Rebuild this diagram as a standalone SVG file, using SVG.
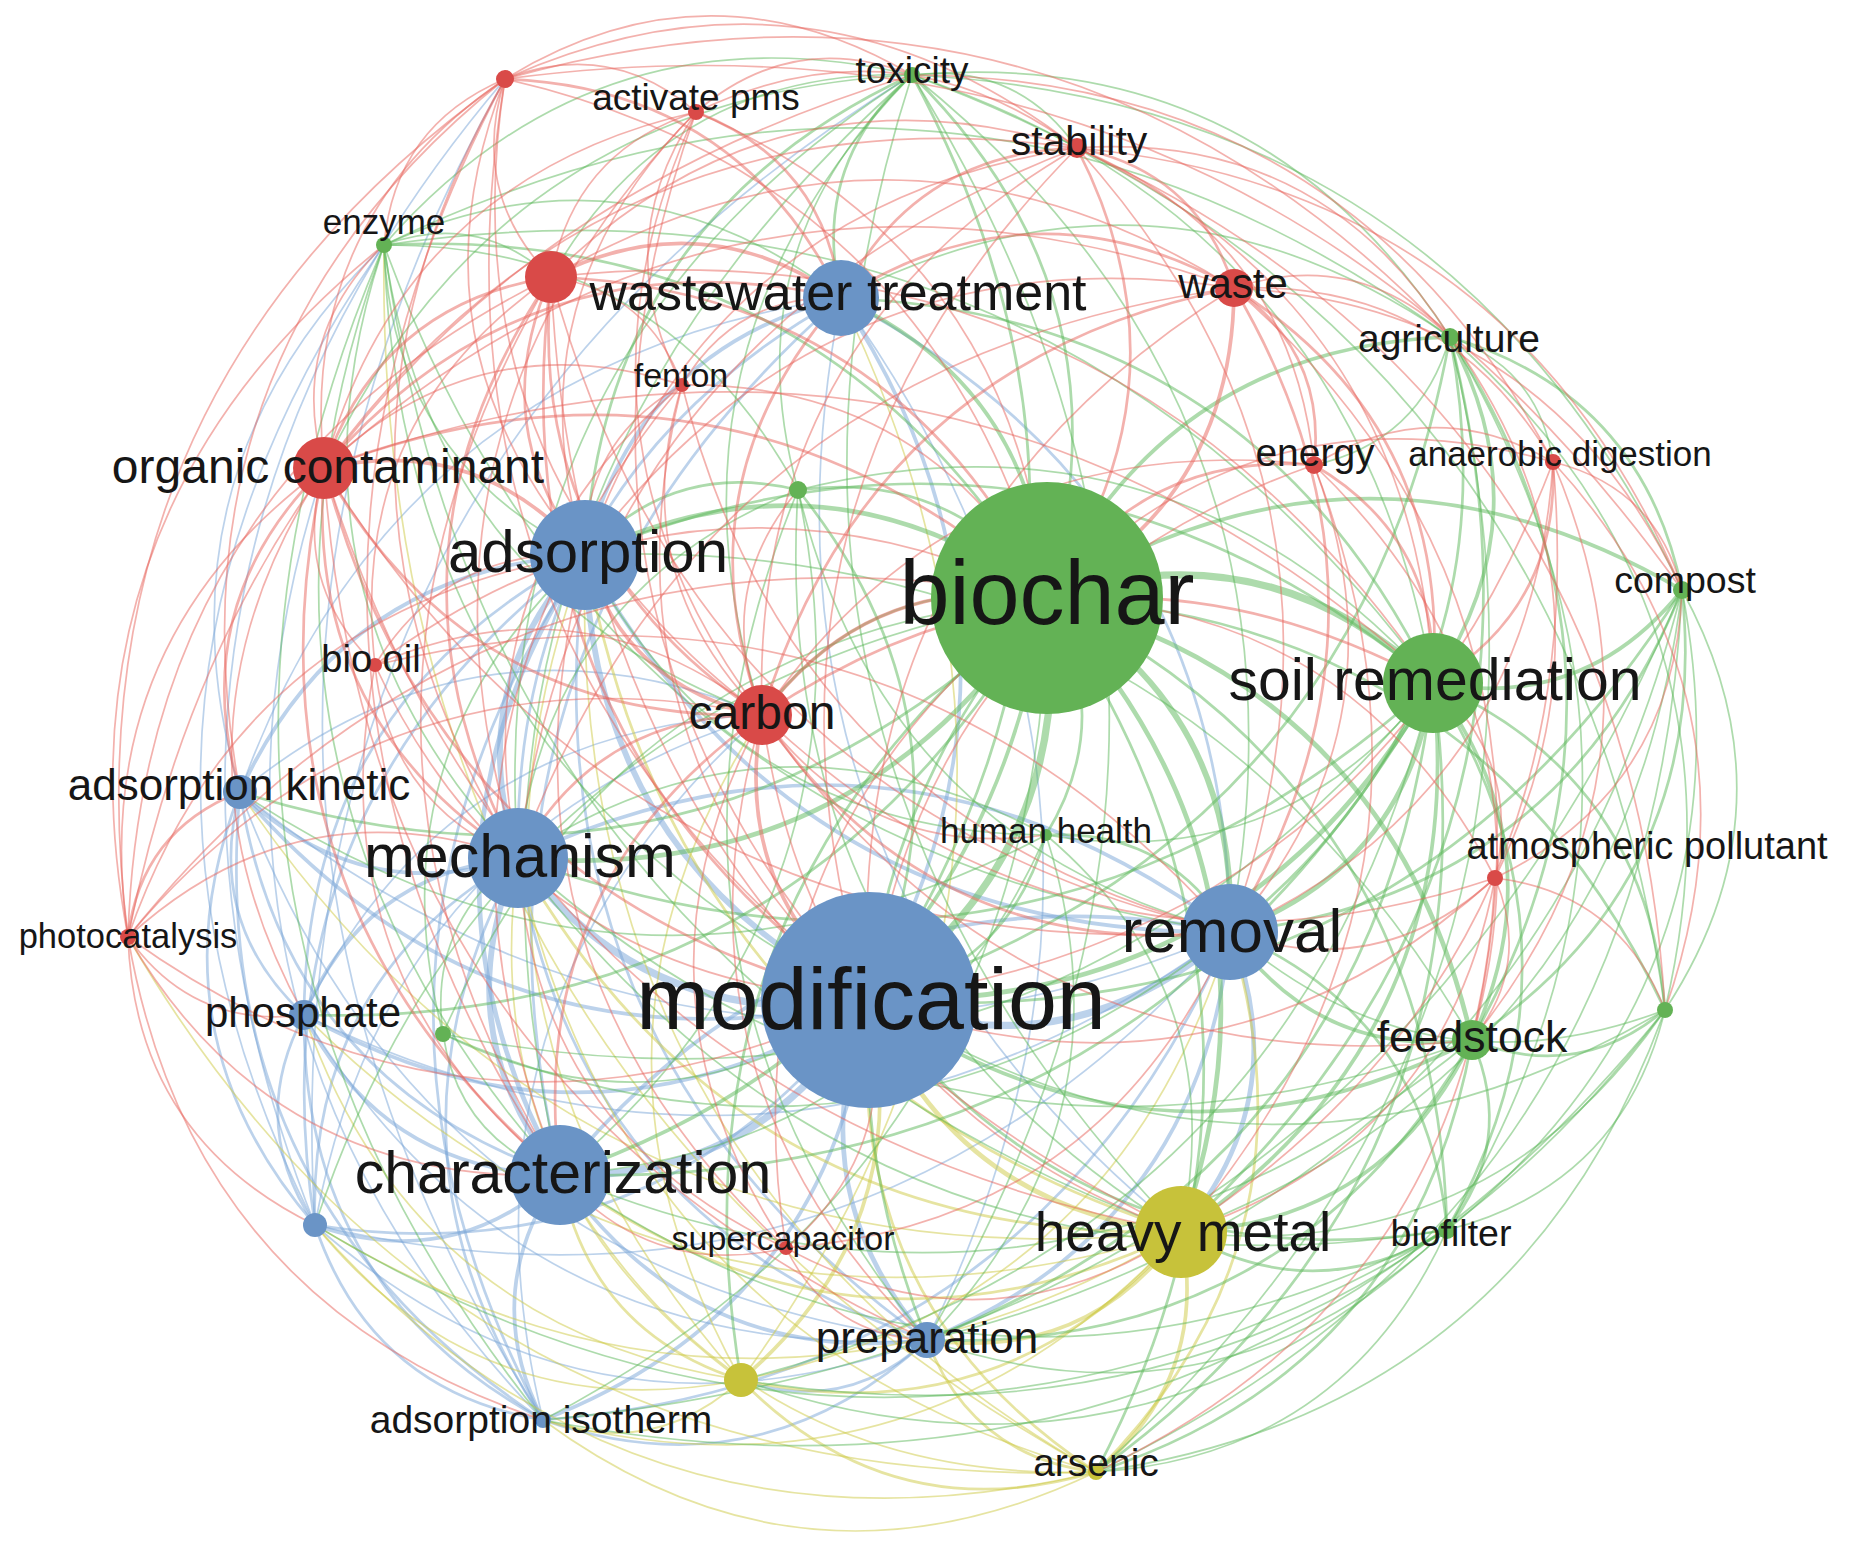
<svg xmlns="http://www.w3.org/2000/svg" xmlns:xlink="http://www.w3.org/1999/xlink" width="1866" height="1551" viewBox="0 0 1866 1551">
<style>
.r{stroke:#e8645c}.g{stroke:#5cb85a}.b{stroke:#7aa6d8}.y{stroke:#cdc944}
#edges use{fill:none;stroke-opacity:0.5}
.s1{stroke-width:1.7}.s2{stroke-width:2.7}.s3{stroke-width:3.7}.s4{stroke-width:4.7}.s5{stroke-width:5.8}.s6{stroke-width:7.2}
.nr{fill:#d94a48}.ng{fill:#63b255}.nb{fill:#6a94c6}.ny{fill:#c7c23a}
text{font-family:"Liberation Sans",Arial,sans-serif;fill:#161616;text-anchor:middle}
</style>
<defs>
<path id="e" d="M0 0Q0.5 -0.3 1 0" fill="none" vector-effect="non-scaling-stroke"/>
</defs>
<rect width="1866" height="1551" fill="#ffffff"/>
<g id="edges">
<!-- blue -->
<use href="#e" class="b s6" transform="matrix(-361 68 -68 -361 1230 932)"/>
<use href="#e" class="b s6" transform="matrix(-309 175 -175 -309 869 1000)"/>
<use href="#e" class="b s6" transform="matrix(-351 -142 142 -351 869 1000)"/>
<use href="#e" class="b s5" transform="matrix(-284 -445 445 -284 869 1000)"/>
<use href="#e" class="b s3" transform="matrix(28 702 -702 28 841 298)"/>
<use href="#e" class="b s4" transform="matrix(-58 -340 340 -58 927 1340)"/>
<use href="#e" class="b s3" transform="matrix(-629 -208 208 -629 869 1000)"/>
<use href="#e" class="b s3" transform="matrix(-565 15 -15 -565 869 1000)"/>
<use href="#e" class="b s3" transform="matrix(-326 420 -420 -326 869 1000)"/>
<use href="#e" class="b s2" transform="matrix(-554 225 -225 -554 869 1000)"/>
<use href="#e" class="b s5" transform="matrix(67 -303 303 67 518 858)"/>
<use href="#e" class="b s4" transform="matrix(25 -620 620 25 560 1175)"/>
<use href="#e" class="b s3" transform="matrix(256 -257 257 256 585 555)"/>
<use href="#e" class="b s3" transform="matrix(-645 -377 377 -645 1230 932)"/>
<use href="#e" class="b s3" transform="matrix(345 -237 237 345 240 792)"/>
<use href="#e" class="b s2" transform="matrix(281 -460 460 281 304 1015)"/>
<use href="#e" class="b s2" transform="matrix(42 -865 865 42 543 1420)"/>
<use href="#e" class="b s2" transform="matrix(270 -670 670 270 315 1225)"/>
<use href="#e" class="b s2" transform="matrix(-342 -785 785 -342 927 1340)"/>
<use href="#e" class="b s5" transform="matrix(-42 -317 317 -42 560 1175)"/>
<use href="#e" class="b s3" transform="matrix(712 74 -74 712 518 858)"/>
<use href="#e" class="b s3" transform="matrix(-278 -66 66 -278 518 858)"/>
<use href="#e" class="b s3" transform="matrix(214 -157 157 214 304 1015)"/>
<use href="#e" class="b s2" transform="matrix(-25 -562 562 -25 543 1420)"/>
<use href="#e" class="b s2" transform="matrix(203 -367 367 203 315 1225)"/>
<use href="#e" class="b s2" transform="matrix(-409 -482 482 -409 927 1340)"/>
<use href="#e" class="b s2" transform="matrix(323 -560 560 323 518 858)"/>
<use href="#e" class="b s3" transform="matrix(670 -243 243 670 560 1175)"/>
<use href="#e" class="b s2" transform="matrix(-320 -383 383 -320 560 1175)"/>
<use href="#e" class="b s3" transform="matrix(-256 -160 160 -256 560 1175)"/>
<use href="#e" class="b s3" transform="matrix(17 -245 245 17 543 1420)"/>
<use href="#e" class="b s3" transform="matrix(-245 50 -50 -245 560 1175)"/>
<use href="#e" class="b s3" transform="matrix(-367 -165 165 -367 927 1340)"/>
<use href="#e" class="b s2" transform="matrix(281 -877 877 281 560 1175)"/>
<use href="#e" class="b s2" transform="matrix(389 634 -634 389 841 298)"/>
<use href="#e" class="b s1" transform="matrix(-340 -934 934 -340 1181 1232)"/>
<use href="#e" class="b s1" transform="matrix(86 1042 -1042 86 841 298)"/>
<use href="#e" class="b s1" transform="matrix(601 -494 494 601 240 792)"/>
<use href="#e" class="b s4" transform="matrix(-49 300 -300 -49 1230 932)"/>
<use href="#e" class="b s3" transform="matrix(-303 408 -408 -303 1230 932)"/>
<use href="#e" class="b s2" transform="matrix(-687 488 -488 -687 1230 932)"/>
<use href="#e" class="b s1" transform="matrix(-990 -140 140 -990 1230 932)"/>
<use href="#e" class="b s1" transform="matrix(-926 83 -83 -926 1230 932)"/>
<use href="#e" class="b s1" transform="matrix(-915 293 -293 -915 1230 932)"/>
<use href="#e" class="b s2" transform="matrix(-64 -223 223 -64 304 1015)"/>
<use href="#e" class="b s2" transform="matrix(-75 -433 433 -75 315 1225)"/>
<use href="#e" class="b s2" transform="matrix(-303 -628 628 -303 543 1420)"/>
<use href="#e" class="b s1" transform="matrix(-687 -548 548 -687 927 1340)"/>
<use href="#e" class="b s2" transform="matrix(-11 -210 210 -11 315 1225)"/>
<use href="#e" class="b s2" transform="matrix(-239 -405 405 -239 543 1420)"/>
<use href="#e" class="b s1" transform="matrix(-623 -325 325 -623 927 1340)"/>
<use href="#e" class="b s2" transform="matrix(-228 -195 195 -228 543 1420)"/>
<use href="#e" class="b s1" transform="matrix(-612 -115 115 -612 927 1340)"/>
<use href="#e" class="b s2" transform="matrix(-384 80 -80 -384 927 1340)"/>
<use href="#e" class="b s2" transform="matrix(-186 40 -40 -186 927 1340)"/>
<use href="#e" class="b s1" transform="matrix(-38 -1341 1341 -38 543 1420)"/>
<use href="#e" class="b s1" transform="matrix(190 -1146 1146 190 315 1225)"/>
<use href="#e" class="b s1" transform="matrix(597 -1150 1150 597 315 1225)"/>
<use href="#e" class="b s1" transform="matrix(144 -547 547 144 240 792)"/>
<use href="#e" class="b s1" transform="matrix(69 -980 980 69 315 1225)"/>
<use href="#e" class="b s1" transform="matrix(-219 -952 952 -219 543 1420)"/>
<use href="#e" class="b s1" transform="matrix(522 -77 77 522 240 792)"/>
<use href="#e" class="b s1" transform="matrix(458 -300 300 458 304 1015)"/>
<use href="#e" class="b s1" transform="matrix(447 -510 510 447 315 1225)"/>
<use href="#e" class="b s1" transform="matrix(219 -705 705 219 543 1420)"/>
<!-- yellow -->
<use href="#e" class="y s4" transform="matrix(-312 -232 232 -312 1181 1232)"/>
<use href="#e" class="y s3" transform="matrix(-128 380 -380 -128 869 1000)"/>
<use href="#e" class="y s2" transform="matrix(-227 -472 472 -227 1096 1472)"/>
<use href="#e" class="y s2" transform="matrix(-596 -677 677 -596 1181 1232)"/>
<use href="#e" class="y s2" transform="matrix(-663 -374 374 -663 1181 1232)"/>
<use href="#e" class="y s1" transform="matrix(-223 -522 522 -223 741 1380)"/>
<use href="#e" class="y s2" transform="matrix(-621 -57 57 -621 1181 1232)"/>
<use href="#e" class="y s2" transform="matrix(-181 -205 205 -181 741 1380)"/>
<use href="#e" class="y s1" transform="matrix(-638 188 -188 -638 1181 1232)"/>
<use href="#e" class="y s1" transform="matrix(-198 40 -40 -198 741 1380)"/>
<use href="#e" class="y s3" transform="matrix(-254 108 -108 -254 1181 1232)"/>
<use href="#e" class="y s3" transform="matrix(-85 240 -240 -85 1181 1232)"/>
<use href="#e" class="y s2" transform="matrix(-440 148 -148 -440 1181 1232)"/>
<use href="#e" class="y s1" transform="matrix(-941 -440 440 -941 1181 1232)"/>
<use href="#e" class="y s1" transform="matrix(-877 -217 217 -877 1181 1232)"/>
<use href="#e" class="y s1" transform="matrix(-866 -7 7 -866 1181 1232)"/>
<use href="#e" class="y s2" transform="matrix(-355 -92 92 -355 1096 1472)"/>
<use href="#e" class="y s1" transform="matrix(-489 448 -448 -489 1230 932)"/>
<use href="#e" class="y s1" transform="matrix(-156 -825 825 -156 741 1380)"/>
<use href="#e" class="y s1" transform="matrix(-426 -155 155 -426 741 1380)"/>
<use href="#e" class="y s1" transform="matrix(-437 -365 365 -437 741 1380)"/>
<use href="#e" class="y s2" transform="matrix(-169 -132 132 -169 1096 1472)"/>
<use href="#e" class="y s1" transform="matrix(-536 -297 297 -536 1096 1472)"/>
<use href="#e" class="y s2" transform="matrix(-134 540 -540 -134 1230 932)"/>
<use href="#e" class="y s1" transform="matrix(-553 -52 52 -553 1096 1472)"/>
<use href="#e" class="y s1" transform="matrix(-578 -614 614 -578 1096 1472)"/>
<use href="#e" class="y s1" transform="matrix(-781 -247 247 -781 1096 1472)"/>
<use href="#e" class="y s1" transform="matrix(-511 -917 917 -511 1096 1472)"/>
<use href="#e" class="y s1" transform="matrix(-968 -535 535 -968 1096 1472)"/>
<use href="#e" class="y s1" transform="matrix(-712 -1227 1227 -712 1096 1472)"/>
<use href="#e" class="y s1" transform="matrix(21 -665 665 21 741 1380)"/>
<use href="#e" class="y s1" transform="matrix(-100 1082 -1082 -100 841 298)"/>
<!-- green -->
<use href="#e" class="g s6" transform="matrix(-178 402 -402 -178 1047 598)"/>
<use href="#e" class="g s6" transform="matrix(386 85 -85 386 1047 598)"/>
<use href="#e" class="g s5" transform="matrix(183 334 -334 183 1047 598)"/>
<use href="#e" class="g s4" transform="matrix(134 634 -634 134 1047 598)"/>
<use href="#e" class="g s3" transform="matrix(-487 577 -577 -487 1047 598)"/>
<use href="#e" class="g s4" transform="matrix(-529 260 -260 -529 1047 598)"/>
<use href="#e" class="g s4" transform="matrix(462 43 -43 462 585 555)"/>
<use href="#e" class="g s3" transform="matrix(206 300 -300 206 841 298)"/>
<use href="#e" class="g s4" transform="matrix(425 442 -442 425 1047 598)"/>
<use href="#e" class="g s3" transform="matrix(403 -261 261 403 1047 598)"/>
<use href="#e" class="g s3" transform="matrix(635 -8 8 635 1047 598)"/>
<use href="#e" class="g s2" transform="matrix(400 632 -632 400 1047 598)"/>
<use href="#e" class="g s2" transform="matrix(49 874 -874 49 1047 598)"/>
<use href="#e" class="g s2" transform="matrix(120 -742 742 120 927 1340)"/>
<use href="#e" class="g s2" transform="matrix(135 523 -523 135 912 75)"/>
<use href="#e" class="g s2" transform="matrix(663 353 -353 663 384 245)"/>
<use href="#e" class="g s2" transform="matrix(249 108 -108 249 798 490)"/>
<use href="#e" class="g s2" transform="matrix(-1 237 -237 -1 1047 598)"/>
<use href="#e" class="g s2" transform="matrix(618 412 -412 618 1047 598)"/>
<use href="#e" class="g s2" transform="matrix(306 -782 782 306 741 1380)"/>
<use href="#e" class="g s2" transform="matrix(-743 417 -417 -743 1047 598)"/>
<use href="#e" class="g s2" transform="matrix(-807 194 -194 -807 1047 598)"/>
<use href="#e" class="g s1" transform="matrix(604 -436 436 604 443 1034)"/>
<use href="#e" class="g s1" transform="matrix(732 -627 627 732 315 1225)"/>
<use href="#e" class="g s1" transform="matrix(-504 822 -822 -504 1047 598)"/>
<use href="#e" class="g s2" transform="matrix(285 -117 117 285 762 715)"/>
<use href="#e" class="g s4" transform="matrix(-564 317 -317 -564 1433 683)"/>
<use href="#e" class="g s4" transform="matrix(-203 249 -249 -203 1433 683)"/>
<use href="#e" class="g s3" transform="matrix(-252 549 -549 -252 1433 683)"/>
<use href="#e" class="g s3" transform="matrix(39 357 -357 39 1433 683)"/>
<use href="#e" class="g s3" transform="matrix(-17 346 -346 -17 1450 337)"/>
<use href="#e" class="g s3" transform="matrix(-249 93 -93 -249 1682 590)"/>
<use href="#e" class="g s2" transform="matrix(14 547 -547 14 1433 683)"/>
<use href="#e" class="g s2" transform="matrix(-337 789 -789 -337 1433 683)"/>
<use href="#e" class="g s2" transform="matrix(232 327 -327 232 1433 683)"/>
<use href="#e" class="g s2" transform="matrix(-873 492 -492 -873 1433 683)"/>
<use href="#e" class="g s2" transform="matrix(-915 175 -175 -915 1433 683)"/>
<use href="#e" class="g s2" transform="matrix(848 128 -128 848 585 555)"/>
<use href="#e" class="g s2" transform="matrix(-506 657 -657 -506 1433 683)"/>
<use href="#e" class="g s1" transform="matrix(-692 697 -697 -692 1433 683)"/>
<use href="#e" class="g s2" transform="matrix(592 385 -385 592 841 298)"/>
<use href="#e" class="g s1" transform="matrix(-990 351 -351 -990 1433 683)"/>
<use href="#e" class="g s1" transform="matrix(521 608 -608 521 912 75)"/>
<use href="#e" class="g s1" transform="matrix(-387 152 -152 -387 1433 683)"/>
<use href="#e" class="g s3" transform="matrix(-603 -40 40 -603 1472 1040)"/>
<use href="#e" class="g s3" transform="matrix(-242 -108 108 -242 1472 1040)"/>
<use href="#e" class="g s3" transform="matrix(-291 192 -192 -291 1472 1040)"/>
<use href="#e" class="g s2" transform="matrix(-25 190 -190 -25 1472 1040)"/>
<use href="#e" class="g s2" transform="matrix(-210 450 -450 -210 1682 590)"/>
<use href="#e" class="g s2" transform="matrix(-193 30 -30 -193 1665 1010)"/>
<use href="#e" class="g s2" transform="matrix(22 703 -703 22 1450 337)"/>
<use href="#e" class="g s2" transform="matrix(-376 432 -432 -376 1472 1040)"/>
<use href="#e" class="g s1" transform="matrix(-912 135 -135 -912 1472 1040)"/>
<use href="#e" class="g s2" transform="matrix(-545 300 -300 -545 1472 1040)"/>
<use href="#e" class="g s1" transform="matrix(-954 -182 182 -954 1472 1040)"/>
<use href="#e" class="g s1" transform="matrix(887 485 -485 887 585 555)"/>
<use href="#e" class="g s2" transform="matrix(-581 663 -663 -581 1450 337)"/>
<use href="#e" class="g s2" transform="matrix(-220 595 -595 -220 1450 337)"/>
<use href="#e" class="g s2" transform="matrix(232 253 -253 232 1450 337)"/>
<use href="#e" class="g s2" transform="matrix(-269 895 -895 -269 1450 337)"/>
<use href="#e" class="g s1" transform="matrix(538 262 -262 538 912 75)"/>
<use href="#e" class="g s1" transform="matrix(215 673 -673 215 1450 337)"/>
<use href="#e" class="g s1" transform="matrix(-3 893 -893 -3 1450 337)"/>
<use href="#e" class="g s1" transform="matrix(609 39 -39 609 841 298)"/>
<use href="#e" class="g s1" transform="matrix(-354 1135 -1135 -354 1450 337)"/>
<use href="#e" class="g s1" transform="matrix(-136 128 -128 -136 1450 337)"/>
<use href="#e" class="g s1" transform="matrix(103 125 -125 103 1450 337)"/>
<use href="#e" class="g s2" transform="matrix(-813 410 -410 -813 1682 590)"/>
<use href="#e" class="g s2" transform="matrix(-452 342 -342 -452 1682 590)"/>
<use href="#e" class="g s1" transform="matrix(-235 640 -640 -235 1682 590)"/>
<use href="#e" class="g s1" transform="matrix(-17 420 -420 -17 1682 590)"/>
<use href="#e" class="g s1" transform="matrix(-501 642 -642 -501 1682 590)"/>
<use href="#e" class="g s1" transform="matrix(-586 882 -882 -586 1682 590)"/>
<use href="#e" class="g s1" transform="matrix(770 515 -515 770 912 75)"/>
<use href="#e" class="g s1" transform="matrix(-755 750 -750 -755 1682 590)"/>
<use href="#e" class="g s1" transform="matrix(-1139 830 -830 -1139 1682 590)"/>
<use href="#e" class="g s2" transform="matrix(-43 925 -925 -43 912 75)"/>
<use href="#e" class="g s2" transform="matrix(327 -480 480 327 585 555)"/>
<use href="#e" class="g s2" transform="matrix(71 -223 223 71 841 298)"/>
<use href="#e" class="g s1" transform="matrix(361 -202 202 361 551 277)"/>
<use href="#e" class="g s1" transform="matrix(588 -393 393 588 324 468)"/>
<use href="#e" class="g s1" transform="matrix(318 857 -857 318 912 75)"/>
<use href="#e" class="g s1" transform="matrix(528 -170 170 528 384 245)"/>
<use href="#e" class="g s1" transform="matrix(-269 -1157 1157 -269 1181 1232)"/>
<use href="#e" class="g s1" transform="matrix(394 -783 783 394 518 858)"/>
<use href="#e" class="g s1" transform="matrix(150 -640 640 150 762 715)"/>
<use href="#e" class="g s1" transform="matrix(753 935 -935 753 912 75)"/>
<use href="#e" class="g s1" transform="matrix(165 73 -73 165 912 75)"/>
<use href="#e" class="g s1" transform="matrix(352 -1100 1100 352 560 1175)"/>
<use href="#e" class="g s1" transform="matrix(15 1265 -1265 15 912 75)"/>
<use href="#e" class="g s1" transform="matrix(457 53 -53 457 384 245)"/>
<use href="#e" class="g s1" transform="matrix(-201 -310 310 -201 585 555)"/>
<use href="#e" class="g s1" transform="matrix(-134 -613 613 -134 518 858)"/>
<use href="#e" class="g s1" transform="matrix(-485 -755 755 -485 869 1000)"/>
<use href="#e" class="g s1" transform="matrix(-378 -470 470 -378 762 715)"/>
<use href="#e" class="g s1" transform="matrix(414 245 -245 414 384 245)"/>
<use href="#e" class="g s1" transform="matrix(-846 -687 687 -846 1230 932)"/>
<use href="#e" class="g s1" transform="matrix(1049 438 -438 1049 384 245)"/>
<use href="#e" class="g s1" transform="matrix(-176 -930 930 -176 560 1175)"/>
<use href="#e" class="g s1" transform="matrix(-159 -1175 1175 -159 543 1420)"/>
<use href="#e" class="g s1" transform="matrix(1066 92 -92 1066 384 245)"/>
<use href="#e" class="g s1" transform="matrix(167 32 -32 167 384 245)"/>
<use href="#e" class="g s1" transform="matrix(-797 -987 987 -797 1181 1232)"/>
<use href="#e" class="g s2" transform="matrix(71 510 -510 71 798 490)"/>
<use href="#e" class="g s2" transform="matrix(213 -65 65 213 585 555)"/>
<use href="#e" class="g s1" transform="matrix(280 -368 368 280 518 858)"/>
<use href="#e" class="g s1" transform="matrix(114 -415 415 114 798 490)"/>
<use href="#e" class="g s1" transform="matrix(635 193 -193 635 798 490)"/>
<use href="#e" class="g s1" transform="matrix(-432 -442 442 -432 1230 932)"/>
<use href="#e" class="g s1" transform="matrix(-238 685 -685 -238 798 490)"/>
<use href="#e" class="g s1" transform="matrix(-383 -742 742 -383 1181 1232)"/>
<use href="#e" class="g s1" transform="matrix(-129 -850 850 -129 927 1340)"/>
<use href="#e" class="g s1" transform="matrix(-426 34 -34 -426 869 1000)"/>
<use href="#e" class="g s1" transform="matrix(75 -176 176 75 443 1034)"/>
<use href="#e" class="g s1" transform="matrix(-117 -141 141 -117 560 1175)"/>
<use href="#e" class="g s1" transform="matrix(-787 102 -102 -787 1230 932)"/>
<use href="#e" class="g s1" transform="matrix(142 -479 479 142 443 1034)"/>
<use href="#e" class="g s1" transform="matrix(-435 -78 78 -435 1665 1010)"/>
<use href="#e" class="g s1" transform="matrix(-796 -10 10 -796 1665 1010)"/>
<use href="#e" class="g s1" transform="matrix(-484 222 -222 -484 1665 1010)"/>
<use href="#e" class="g s1" transform="matrix(-218 220 -220 -218 1665 1010)"/>
<use href="#e" class="g s1" transform="matrix(-569 462 -462 -569 1665 1010)"/>
<use href="#e" class="g s1" transform="matrix(-1122 410 -410 -1122 1665 1010)"/>
<use href="#e" class="g s1" transform="matrix(-924 370 -370 -924 1665 1010)"/>
<use href="#e" class="g s2" transform="matrix(-578 -230 230 -578 1447 1230)"/>
<use href="#e" class="g s2" transform="matrix(-266 2 -2 -266 1447 1230)"/>
<use href="#e" class="g s2" transform="matrix(217 298 -298 217 1230 932)"/>
<use href="#e" class="g s1" transform="matrix(-351 242 -242 -351 1447 1230)"/>
<use href="#e" class="g s1" transform="matrix(-520 110 -110 -520 1447 1230)"/>
<use href="#e" class="g s1" transform="matrix(-887 -55 55 -887 1447 1230)"/>
<use href="#e" class="g s1" transform="matrix(-706 150 -150 -706 1447 1230)"/>
<use href="#e" class="g s1" transform="matrix(-1132 -5 5 -1132 1447 1230)"/>
<use href="#e" class="g s1" transform="matrix(-929 -372 372 -929 1447 1230)"/>
<use href="#e" class="g s2" transform="matrix(-177 165 -165 -177 1046 835)"/>
<use href="#e" class="g s2" transform="matrix(184 97 -97 184 1046 835)"/>
<use href="#e" class="g s1" transform="matrix(135 397 -397 135 1046 835)"/>
<use href="#e" class="g s1" transform="matrix(528 -23 23 528 518 858)"/>
<use href="#e" class="g s1" transform="matrix(-461 -280 280 -461 1046 835)"/>
<use href="#e" class="g s1" transform="matrix(-486 340 -340 -486 1046 835)"/>
<use href="#e" class="g s1" transform="matrix(-119 505 -505 -119 1046 835)"/>
<use href="#e" class="g s1" transform="matrix(-806 -43 43 -806 1046 835)"/>
<!-- red -->
<use href="#e" class="r s1" transform="matrix(181 -389 389 181 324 468)"/>
<use href="#e" class="r s1" transform="matrix(-46 -198 198 -46 551 277)"/>
<use href="#e" class="r s2" transform="matrix(336 219 -219 336 505 79)"/>
<use href="#e" class="r s1" transform="matrix(-80 -476 476 -80 585 555)"/>
<use href="#e" class="r s1" transform="matrix(-257 -636 636 -257 762 715)"/>
<use href="#e" class="r s1" transform="matrix(542 519 -519 542 505 79)"/>
<use href="#e" class="r s1" transform="matrix(377 -858 858 377 128 937)"/>
<use href="#e" class="r s1" transform="matrix(265 -713 713 265 240 792)"/>
<use href="#e" class="r s1" transform="matrix(-13 -779 779 -13 518 858)"/>
<use href="#e" class="r s1" transform="matrix(572 69 -69 572 505 79)"/>
<use href="#e" class="r s1" transform="matrix(407 -4 4 407 505 79)"/>
<use href="#e" class="r s1" transform="matrix(191 33 -33 191 505 79)"/>
<use href="#e" class="r s1" transform="matrix(-364 -921 921 -364 869 1000)"/>
<use href="#e" class="r s1" transform="matrix(-55 -1096 1096 -55 560 1175)"/>
<use href="#e" class="r s1" transform="matrix(121 -166 166 121 384 245)"/>
<use href="#e" class="r s1" transform="matrix(145 -165 165 145 551 277)"/>
<use href="#e" class="r s1" transform="matrix(372 -356 356 372 324 468)"/>
<use href="#e" class="r s2" transform="matrix(145 186 -186 145 696 112)"/>
<use href="#e" class="r s1" transform="matrix(111 -443 443 111 585 555)"/>
<use href="#e" class="r s1" transform="matrix(-66 -603 603 -66 762 715)"/>
<use href="#e" class="r s1" transform="matrix(351 486 -486 351 696 112)"/>
<use href="#e" class="r s1" transform="matrix(178 -746 746 178 518 858)"/>
<use href="#e" class="r s1" transform="matrix(-173 -888 888 -173 869 1000)"/>
<use href="#e" class="r s1" transform="matrix(381 36 -36 381 696 112)"/>
<use href="#e" class="r s1" transform="matrix(14 -273 273 14 682 385)"/>
<use href="#e" class="r s1" transform="matrix(216 -37 37 216 696 112)"/>
<use href="#e" class="r s2" transform="matrix(236 -150 150 236 841 298)"/>
<use href="#e" class="r s1" transform="matrix(526 -129 129 526 551 277)"/>
<use href="#e" class="r s2" transform="matrix(-30 450 -450 -30 1077 148)"/>
<use href="#e" class="r s2" transform="matrix(157 140 -140 157 1077 148)"/>
<use href="#e" class="r s1" transform="matrix(492 -407 407 492 585 555)"/>
<use href="#e" class="r s1" transform="matrix(315 -567 567 315 762 715)"/>
<use href="#e" class="r s1" transform="matrix(208 -852 852 208 869 1000)"/>
<use href="#e" class="r s1" transform="matrix(753 -320 320 753 324 468)"/>
<use href="#e" class="r s1" transform="matrix(356 535 -535 356 1077 148)"/>
<use href="#e" class="r s1" transform="matrix(153 784 -784 153 1077 148)"/>
<use href="#e" class="r s1" transform="matrix(237 317 -317 237 1077 148)"/>
<use href="#e" class="r s1" transform="matrix(559 -710 710 559 518 858)"/>
<use href="#e" class="r s3" transform="matrix(-187 310 -310 -187 1234 288)"/>
<use href="#e" class="r s2" transform="matrix(199 395 -395 199 1234 288)"/>
<use href="#e" class="r s2" transform="matrix(393 -10 10 393 841 298)"/>
<use href="#e" class="r s2" transform="matrix(80 177 -177 80 1234 288)"/>
<use href="#e" class="r s1" transform="matrix(319 174 -174 319 1234 288)"/>
<use href="#e" class="r s2" transform="matrix(-4 644 -644 -4 1234 288)"/>
<use href="#e" class="r s1" transform="matrix(365 -712 712 365 869 1000)"/>
<use href="#e" class="r s2" transform="matrix(472 -427 427 472 762 715)"/>
<use href="#e" class="r s1" transform="matrix(216 49 -49 216 1234 288)"/>
<use href="#e" class="r s1" transform="matrix(238 752 -752 238 1234 288)"/>
<use href="#e" class="r s1" transform="matrix(683 11 -11 683 551 277)"/>
<use href="#e" class="r s1" transform="matrix(910 -180 180 910 324 468)"/>
<use href="#e" class="r s1" transform="matrix(649 -267 267 649 585 555)"/>
<use href="#e" class="r s1" transform="matrix(716 -570 570 716 518 858)"/>
<use href="#e" class="r s1" transform="matrix(448 302 -302 448 1234 288)"/>
<use href="#e" class="r s2" transform="matrix(227 -191 191 227 324 468)"/>
<use href="#e" class="r s3" transform="matrix(290 21 -21 290 551 277)"/>
<use href="#e" class="r s2" transform="matrix(-34 -278 278 -34 585 555)"/>
<use href="#e" class="r s2" transform="matrix(-211 -438 438 -211 762 715)"/>
<use href="#e" class="r s2" transform="matrix(496 321 -321 496 551 277)"/>
<use href="#e" class="r s2" transform="matrix(-318 -723 723 -318 869 1000)"/>
<use href="#e" class="r s2" transform="matrix(33 -581 581 33 518 858)"/>
<use href="#e" class="r s1" transform="matrix(131 108 -108 131 551 277)"/>
<use href="#e" class="r s1" transform="matrix(-9 -898 898 -9 560 1175)"/>
<use href="#e" class="r s1" transform="matrix(-679 -655 655 -679 1230 932)"/>
<use href="#e" class="r s1" transform="matrix(176 -388 388 176 375 665)"/>
<use href="#e" class="r s1" transform="matrix(882 406 -406 882 551 277)"/>
<use href="#e" class="r s1" transform="matrix(-630 -955 955 -630 1181 1232)"/>
<use href="#e" class="r s3" transform="matrix(261 87 -87 261 324 468)"/>
<use href="#e" class="r s2" transform="matrix(-438 -247 247 -438 762 715)"/>
<use href="#e" class="r s2" transform="matrix(-194 -390 390 -194 518 858)"/>
<use href="#e" class="r s2" transform="matrix(-545 -532 532 -545 869 1000)"/>
<use href="#e" class="r s2" transform="matrix(723 130 -130 723 324 468)"/>
<use href="#e" class="r s2" transform="matrix(-236 -707 707 -236 560 1175)"/>
<use href="#e" class="r s1" transform="matrix(-51 -197 197 -51 375 665)"/>
<use href="#e" class="r s2" transform="matrix(84 -324 324 84 240 792)"/>
<use href="#e" class="r s1" transform="matrix(196 -469 469 196 128 937)"/>
<use href="#e" class="r s2" transform="matrix(517 -170 170 517 324 468)"/>
<use href="#e" class="r s1" transform="matrix(358 -83 83 358 324 468)"/>
<use href="#e" class="r s1" transform="matrix(20 -547 547 20 304 1015)"/>
<use href="#e" class="r s1" transform="matrix(-906 -464 464 -906 1230 932)"/>
<use href="#e" class="r s1" transform="matrix(1109 215 -215 1109 324 468)"/>
<use href="#e" class="r s1" transform="matrix(60 -223 223 60 324 468)"/>
<use href="#e" class="r s1" transform="matrix(-857 -764 764 -857 1181 1232)"/>
<use href="#e" class="r s1" transform="matrix(-603 -872 872 -603 927 1340)"/>
<use href="#e" class="r s3" transform="matrix(-177 -160 160 -177 762 715)"/>
<use href="#e" class="r s2" transform="matrix(244 -143 143 244 518 858)"/>
<use href="#e" class="r s3" transform="matrix(-107 -285 285 -107 869 1000)"/>
<use href="#e" class="r s3" transform="matrix(285 -117 117 285 762 715)"/>
<use href="#e" class="r s2" transform="matrix(202 -460 460 202 560 1175)"/>
<use href="#e" class="r s2" transform="matrix(-468 -217 217 -468 1230 932)"/>
<use href="#e" class="r s2" transform="matrix(671 -32 32 671 762 715)"/>
<use href="#e" class="r s1" transform="matrix(-419 -517 517 -419 1181 1232)"/>
<use href="#e" class="r s2" transform="matrix(79 -417 417 79 762 715)"/>
<use href="#e" class="r s1" transform="matrix(-24 -533 533 -24 786 1248)"/>
<use href="#e" class="r s1" transform="matrix(-165 -625 625 -165 927 1340)"/>
<use href="#e" class="r s1" transform="matrix(-710 -325 325 -710 1472 1040)"/>
<use href="#e" class="r s1" transform="matrix(36 -225 225 36 762 715)"/>
<use href="#e" class="r s1" transform="matrix(-284 -120 120 -284 1046 835)"/>
<use href="#e" class="r s1" transform="matrix(97 -170 170 97 585 555)"/>
<use href="#e" class="r s1" transform="matrix(-80 -330 330 -80 762 715)"/>
<use href="#e" class="r s1" transform="matrix(-187 -615 615 -187 869 1000)"/>
<use href="#e" class="r s1" transform="matrix(365 213 -213 365 682 385)"/>
<use href="#e" class="r s1" transform="matrix(159 -87 87 159 682 385)"/>
<use href="#e" class="r s1" transform="matrix(164 -473 473 164 518 858)"/>
<use href="#e" class="r s1" transform="matrix(-548 -547 547 -548 1230 932)"/>
<use href="#e" class="r s1" transform="matrix(122 -790 790 122 560 1175)"/>
<use href="#e" class="r s1" transform="matrix(672 -67 67 672 375 665)"/>
<use href="#e" class="r s1" transform="matrix(-494 -335 335 -494 869 1000)"/>
<use href="#e" class="r s1" transform="matrix(387 50 -50 387 375 665)"/>
<use href="#e" class="r s1" transform="matrix(-143 -193 193 -143 518 858)"/>
<use href="#e" class="r s1" transform="matrix(210 -110 110 210 375 665)"/>
<use href="#e" class="r s1" transform="matrix(-185 -510 510 -185 560 1175)"/>
<use href="#e" class="r s1" transform="matrix(855 267 -267 855 375 665)"/>
<use href="#e" class="r s2" transform="matrix(112 -145 145 112 128 937)"/>
<use href="#e" class="r s1" transform="matrix(390 -79 79 390 128 937)"/>
<use href="#e" class="r s1" transform="matrix(-741 -63 63 -741 869 1000)"/>
<use href="#e" class="r s1" transform="matrix(-432 -238 238 -432 560 1175)"/>
<use href="#e" class="r s1" transform="matrix(457 -382 382 457 128 937)"/>
<use href="#e" class="r s1" transform="matrix(634 -222 222 634 128 937)"/>
<use href="#e" class="r s1" transform="matrix(-176 -78 78 -176 304 1015)"/>
<use href="#e" class="r s1" transform="matrix(919 -339 339 919 128 937)"/>
<use href="#e" class="r s1" transform="matrix(423 -660 660 423 128 937)"/>
<use href="#e" class="r s1" transform="matrix(-187 -288 288 -187 315 1225)"/>
<use href="#e" class="r s1" transform="matrix(-415 -483 483 -415 543 1420)"/>
<use href="#e" class="r s1" transform="matrix(784 -862 862 784 128 937)"/>
<use href="#e" class="r s1" transform="matrix(256 -692 692 256 128 937)"/>
<use href="#e" class="r s2" transform="matrix(267 -133 133 267 1047 598)"/>
<use href="#e" class="r s2" transform="matrix(119 218 -218 119 1314 465)"/>
<use href="#e" class="r s1" transform="matrix(445 -535 535 445 869 1000)"/>
<use href="#e" class="r s1" transform="matrix(-84 467 -467 -84 1314 465)"/>
<use href="#e" class="r s1" transform="matrix(158 575 -575 158 1314 465)"/>
<use href="#e" class="r s1" transform="matrix(552 -250 250 552 762 715)"/>
<use href="#e" class="r s1" transform="matrix(-133 767 -767 -133 1314 465)"/>
<use href="#e" class="r s1" transform="matrix(506 -136 136 506 1047 598)"/>
<use href="#e" class="r s2" transform="matrix(-120 221 -221 -120 1553 462)"/>
<use href="#e" class="r s1" transform="matrix(-81 578 -578 -81 1553 462)"/>
<use href="#e" class="r s1" transform="matrix(239 -3 3 239 1314 465)"/>
<use href="#e" class="r s1" transform="matrix(129 128 -128 129 1553 462)"/>
<use href="#e" class="r s1" transform="matrix(-684 538 -538 -684 1553 462)"/>
<use href="#e" class="r s1" transform="matrix(-323 470 -470 -323 1553 462)"/>
<use href="#e" class="r s1" transform="matrix(112 548 -548 112 1553 462)"/>
<use href="#e" class="r s1" transform="matrix(-372 770 -770 -372 1553 462)"/>
<use href="#e" class="r s1" transform="matrix(641 387 -387 641 912 75)"/>
<use href="#e" class="r s1" transform="matrix(448 280 -280 448 1047 598)"/>
<use href="#e" class="r s1" transform="matrix(62 195 -195 62 1433 683)"/>
<use href="#e" class="r s1" transform="matrix(-265 54 -54 -265 1495 878)"/>
<use href="#e" class="r s1" transform="matrix(-626 122 -122 -626 1495 878)"/>
<use href="#e" class="r s1" transform="matrix(-23 162 -162 -23 1495 878)"/>
<use href="#e" class="r s1" transform="matrix(-733 -163 163 -733 1495 878)"/>
<use href="#e" class="r s1" transform="matrix(-314 354 -354 -314 1495 878)"/>
<use href="#e" class="r s1" transform="matrix(-187 288 -288 -187 1682 590)"/>
<use href="#e" class="r s1" transform="matrix(45 541 -541 45 1450 337)"/>
<use href="#e" class="r s1" transform="matrix(170 132 -132 170 1495 878)"/>
<use href="#e" class="r s1" transform="matrix(-399 594 -594 -399 1495 878)"/>
<use href="#e" class="r s1" transform="matrix(-83 248 -248 -83 869 1000)"/>
<use href="#e" class="r s1" transform="matrix(-226 -73 73 -226 786 1248)"/>
<use href="#e" class="r s1" transform="matrix(-141 -92 92 -141 927 1340)"/>
<use href="#e" class="r s1" transform="matrix(261 -650 650 261 786 1248)"/>
<use href="#e" class="r s1" transform="matrix(-268 -390 390 -268 786 1248)"/>
<use href="#e" class="r s1" transform="matrix(-395 16 -16 -395 1181 1232)"/>
<use href="#e" class="r s1" transform="matrix(-444 316 -316 -444 1230 932)"/>
<use href="#e" class="r s1" transform="matrix(-201 -693 693 -201 786 1248)"/>
<use href="#e" class="r s1" transform="matrix(945 258 -258 945 505 79)"/>
<use href="#e" class="r s1" transform="matrix(1177 511 -511 1177 505 79)"/>
<use href="#e" class="r s1" transform="matrix(605 442 -442 605 1077 148)"/>
<use href="#e" class="r s1" transform="matrix(588 862 -862 588 1077 148)"/>
<use href="#e" class="r s1" transform="matrix(373 189 -189 373 1077 148)"/>
</g>
<g id="nodes">
<g id="n-biochar"><circle class="ng" cx="1047" cy="598" r="116"/><text x="1047" y="624" font-size="90">biochar</text></g>
<g id="n-modification"><circle class="nb" cx="869" cy="1000" r="108"/><text x="871" y="1029" font-size="88">modification</text></g>
<g id="n-soil-remediation"><circle class="ng" cx="1433" cy="683" r="50"/><text x="1435" y="700" font-size="59">soil remediation</text></g>
<g id="n-removal"><circle class="nb" cx="1230" cy="932" r="48"/><text x="1232" y="952" font-size="62">removal</text></g>
<g id="n-heavy-metal"><circle class="ny" cx="1181" cy="1232" r="46"/><text x="1183" y="1251" font-size="55">heavy metal</text></g>
<g id="n-characterization"><circle class="nb" cx="560" cy="1175" r="50"/><text x="563" y="1193" font-size="59">characterization</text></g>
<g id="n-mechanism"><circle class="nb" cx="518" cy="858" r="50"/><text x="520" y="877" font-size="61">mechanism</text></g>
<g id="n-adsorption"><circle class="nb" cx="585" cy="555" r="55"/><text x="588" y="572" font-size="60">adsorption</text></g>
<g id="n-red-unlabeled"><circle class="nr" cx="551" cy="277" r="26"/></g>
<g id="n-wastewater-treatment"><circle class="nb" cx="841" cy="298" r="38"/><text x="838" y="310" font-size="52">wastewater treatment</text></g>
<g id="n-organic-contaminant"><circle class="nr" cx="324" cy="468" r="31"/><text x="328" y="483" font-size="48">organic contaminant</text></g>
<g id="n-carbon"><circle class="nr" cx="762" cy="715" r="30"/><text x="762" y="729" font-size="48">carbon</text></g>
<g id="n-waste"><circle class="nr" cx="1234" cy="288" r="19"/><text x="1233" y="298" font-size="42">waste</text></g>
<g id="n-stability"><circle class="nr" cx="1077" cy="148" r="10"/><text x="1079" y="155" font-size="41">stability</text></g>
<g id="n-toxicity"><circle class="ng" cx="912" cy="75" r="8"/><text x="912" y="83" font-size="37">toxicity</text></g>
<g id="n-activate-pms"><circle class="nr" cx="696" cy="112" r="8"/><text x="696" y="110" font-size="37">activate pms</text></g>
<g id="n-red-top"><circle class="nr" cx="505" cy="79" r="9"/></g>
<g id="n-enzyme"><circle class="ng" cx="384" cy="245" r="8"/><text x="384" y="234" font-size="35">enzyme</text></g>
<g id="n-fenton"><circle class="nr" cx="682" cy="385" r="7"/><text x="681" y="387" font-size="34">fenton</text></g>
<g id="n-green-1"><circle class="ng" cx="798" cy="490" r="9"/></g>
<g id="n-bio-oil"><circle class="nr" cx="375" cy="665" r="7"/><text x="371" y="672" font-size="38">bio oil</text></g>
<g id="n-adsorption-kinetic"><circle class="nb" cx="240" cy="792" r="17"/><text x="239" y="800" font-size="44">adsorption kinetic</text></g>
<g id="n-photocatalysis"><circle class="nr" cx="128" cy="937" r="8"/><text x="128" y="948" font-size="34.5">photocatalysis</text></g>
<g id="n-phosphate"><circle class="nb" cx="304" cy="1015" r="15"/><text x="303" y="1027" font-size="42">phosphate</text></g>
<g id="n-green-2"><circle class="ng" cx="443" cy="1034" r="8"/></g>
<g id="n-blue-dot"><circle class="nb" cx="315" cy="1225" r="12"/></g>
<g id="n-supercapacitor"><circle class="nr" cx="786" cy="1248" r="7"/><text x="783" y="1250" font-size="34">supercapacitor</text></g>
<g id="n-yellow-dot"><circle class="ny" cx="741" cy="1380" r="17"/></g>
<g id="n-adsorption-isotherm"><circle class="nb" cx="543" cy="1420" r="8"/><text x="541" y="1433" font-size="39">adsorption isotherm</text></g>
<g id="n-preparation"><circle class="nb" cx="927" cy="1340" r="18"/><text x="927" y="1353" font-size="44">preparation</text></g>
<g id="n-arsenic"><circle class="ny" cx="1096" cy="1472" r="8"/><text x="1096" y="1476" font-size="39">arsenic</text></g>
<g id="n-biofilter"><circle class="ng" cx="1447" cy="1230" r="9"/><text x="1451" y="1246" font-size="37.5">biofilter</text></g>
<g id="n-feedstock"><circle class="ng" cx="1472" cy="1040" r="20"/><text x="1472" y="1052" font-size="44.5">feedstock</text></g>
<g id="n-green-3"><circle class="ng" cx="1665" cy="1010" r="8"/></g>
<g id="n-atmospheric-pollutant"><circle class="nr" cx="1495" cy="878" r="8"/><text x="1647" y="859" font-size="38">atmospheric pollutant</text></g>
<g id="n-compost"><circle class="ng" cx="1682" cy="590" r="9"/><text x="1685" y="593" font-size="37.5">compost</text></g>
<g id="n-anaerobic-digestion"><circle class="nr" cx="1553" cy="462" r="8"/><text x="1560" y="466" font-size="35">anaerobic digestion</text></g>
<g id="n-energy"><circle class="nr" cx="1314" cy="465" r="9"/><text x="1315" y="466" font-size="39">energy</text></g>
<g id="n-agriculture"><circle class="ng" cx="1450" cy="337" r="9"/><text x="1449" y="352" font-size="39">agriculture</text></g>
<g id="n-human-health"><circle class="ng" cx="1046" cy="835" r="6"/><text x="1046" y="843" font-size="35">human health</text></g>
</g>
</svg>
